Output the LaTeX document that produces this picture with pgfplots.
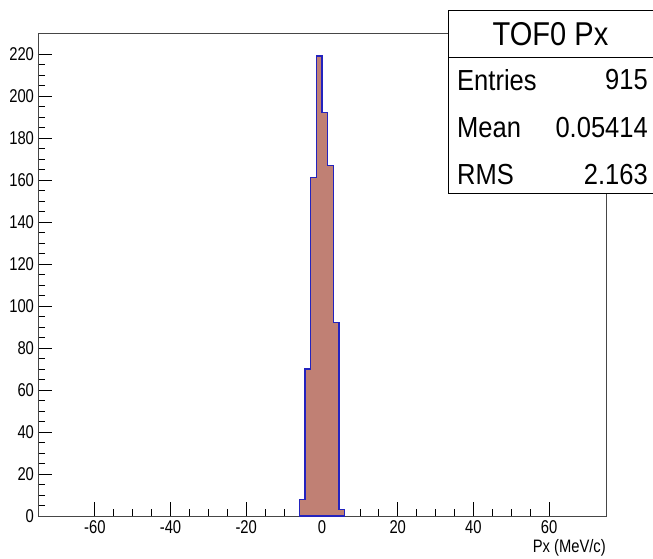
\documentclass[border=0pt]{standalone}
\usepackage{pgfplots}
\pgfplotsset{compat=1.18}
\usepackage{fontspec}
\setmainfont{Liberation Sans}
\usepackage{graphicx}
\definecolor{histfill}{RGB}{192,128,116}
\definecolor{histline}{RGB}{35,35,190}
\definecolor{framecol}{RGB}{70,70,70}
\begin{document}
\begin{tikzpicture}[x=1pt,y=1pt]
\path[use as bounding box] (0,0) rectangle (653,559);
\begin{axis}[
  at={(38pt,43pt)}, anchor=south west,
  scale only axis, width=568pt, height=483pt,
  xmin=-75, xmax=75, ymin=0, ymax=229.95,
  xtick={-60,-40,...,60}, ytick={0,20,...,220},
  minor x tick num=3, minor y tick num=3,
  tick pos=left, tick align=inside,
  major tick length=14pt, minor tick length=7pt,
  axis line style={framecol, line width=0.8pt},
  every tick/.style={black, line width=0.7pt},
  tick label style={font=\fontsize{18.5}{20}\selectfont, /pgf/number format/assume math mode=true},
  xticklabel={\scalebox{0.8}[1]{\pgfmathprintnumber{\tick}}},
  yticklabel={\scalebox{0.8}[1]{\pgfmathprintnumber{\tick}}},
  xticklabel style={yshift=-1pt},
  yticklabel style={xshift=-0.5pt},
  clip=false,
]
\addplot[const plot, fill=histfill, draw=histline, line width=1.1pt] coordinates {
(-6,8) (-4.5,70) (-3,161) (-1.5,219) (0,192) (1.5,167) (3,92) (4.5,3) (6,3)
} \closedcycle;
\end{axis}
\node[anchor=north east, inner sep=0pt, font=\fontsize{18}{20}\selectfont] at (606,19.5) {\scalebox{0.82}[1]{Px (MeV/c)}};
% stats box
\draw[black, line width=0.8pt, fill=white] (448,548.3) rectangle (655,366);
\draw[black, line width=0.8pt] (448,502) -- (655,502);
\node[font=\fontsize{33}{36}\selectfont] at (550.5,525) {\scalebox{0.88}[1]{TOF0 Px}};
\node[anchor=west, inner sep=0pt, font=\fontsize{29}{32}\selectfont] at (457,479) {\scalebox{0.88}[1]{Entries}};
\node[anchor=east, inner sep=0pt, font=\fontsize{29}{32}\selectfont] at (648,479) {\scalebox{0.88}[1]{915}};
\node[anchor=west, inner sep=0pt, font=\fontsize{29}{32}\selectfont] at (457,431) {\scalebox{0.88}[1]{Mean}};
\node[anchor=east, inner sep=0pt, font=\fontsize{29}{32}\selectfont] at (648,431) {\scalebox{0.88}[1]{0.05414}};
\node[anchor=west, inner sep=0pt, font=\fontsize{29}{32}\selectfont] at (457,384) {\scalebox{0.88}[1]{RMS}};
\node[anchor=east, inner sep=0pt, font=\fontsize{29}{32}\selectfont] at (648,384) {\scalebox{0.88}[1]{2.163}};
\end{tikzpicture}
\end{document}
